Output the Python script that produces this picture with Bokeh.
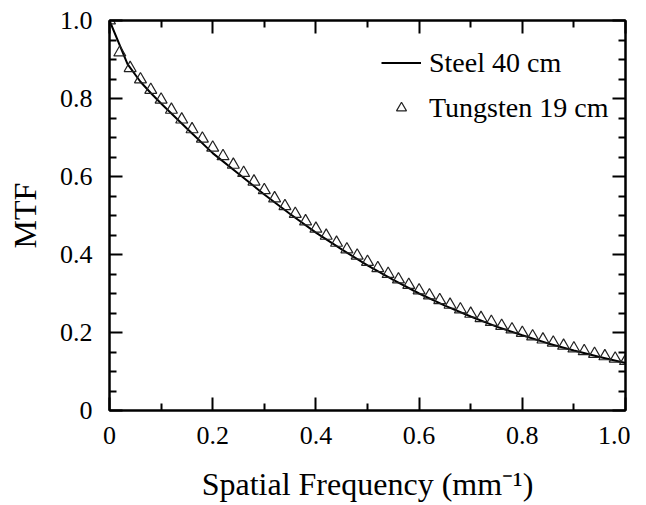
from bokeh.plotting import figure
from bokeh.models import (Range1d, LinearAxis, FixedTicker, PrintfTickFormatter,
                          Legend, LegendItem)
from bokeh.embed import file_html
from bokeh.resources import INLINE

# ---- data ----
steel_x = [0.00, 0.035, 0.06, 0.08, 0.10, 0.15, 0.20, 0.25, 0.30, 0.35, 0.40,
           0.45, 0.50, 0.55, 0.60, 0.65, 0.70, 0.75, 0.80, 0.85, 0.90, 0.95, 1.00]
steel_y = [1.000, 0.888, 0.843, 0.814, 0.787, 0.723, 0.660, 0.607, 0.554, 0.504, 0.456,
           0.413, 0.372, 0.335, 0.300, 0.269, 0.241, 0.215, 0.193, 0.172, 0.154, 0.137, 0.122]

tung_x = [0.00, 0.02, 0.04, 0.06, 0.08, 0.10, 0.12, 0.14, 0.16, 0.18,
          0.20, 0.22, 0.24, 0.26, 0.28, 0.30, 0.32, 0.34, 0.36, 0.38,
          0.40, 0.42, 0.44, 0.46, 0.48, 0.50, 0.52, 0.54, 0.56, 0.58,
          0.60, 0.62, 0.64, 0.66, 0.68, 0.70, 0.72, 0.74, 0.76, 0.78,
          0.80, 0.82, 0.84, 0.86, 0.88, 0.90, 0.92, 0.94, 0.96, 0.98, 1.00]
tung_y = [1.000, 0.918, 0.878, 0.849, 0.822, 0.797, 0.771, 0.746, 0.721, 0.697,
          0.674, 0.652, 0.630, 0.609, 0.587, 0.565, 0.544, 0.524, 0.504, 0.485,
          0.466, 0.448, 0.430, 0.413, 0.397, 0.381, 0.365, 0.350, 0.336, 0.322,
          0.308, 0.295, 0.283, 0.271, 0.259, 0.248, 0.237, 0.227, 0.217, 0.208,
          0.199, 0.190, 0.182, 0.174, 0.166, 0.159, 0.152, 0.145, 0.139, 0.133, 0.127]

x_major = [0, 0.2, 0.4, 0.6, 0.8, 1.0]
x_minor = [0.1, 0.3, 0.5, 0.7, 0.9]
y_major = [0, 0.2, 0.4, 0.6, 0.8, 1.0]
y_minor = [0.05, 0.1, 0.15, 0.25, 0.3, 0.35, 0.45, 0.5, 0.55, 0.65, 0.7, 0.75, 0.85, 0.9, 0.95]

series_labels = ["Steel 40 cm", "Tungsten 19 cm"]
x_title = "Spatial Frequency (mm\u207b\u00b9)"
y_title = "MTF"

FONT = "Liberation Serif"

p = figure(frame_width=516, frame_height=390,
           x_range=Range1d(0, 1.0), y_range=Range1d(0, 1.0),
           output_backend="svg", toolbar_location=None,
           min_border_left=109, min_border_right=5, min_border_top=20,
           min_border_bottom=0, background_fill_color="white",
           border_fill_color="white")
p.grid.visible = False
p.outline_line_color = "black"
p.outline_line_width = 2

top = LinearAxis()
right = LinearAxis()
p.add_layout(top, "above")
p.add_layout(right, "right")

xa = p.below[0]
ya = p.left[0]

axes = [(xa, x_major, x_minor, True), (top, x_major, x_minor, False),
        (ya, y_major, y_minor, True), (right, y_major, y_minor, False)]

for ax, majors, minors, show in axes:
    ax.ticker = FixedTicker(ticks=majors, minor_ticks=minors)
    ax.axis_line_color = "black"
    ax.axis_line_width = 2
    ax.major_tick_in = 13
    ax.major_tick_out = 0
    ax.minor_tick_in = 7
    ax.minor_tick_out = 0
    ax.major_tick_line_width = 2
    ax.minor_tick_line_width = 2
    ax.major_tick_line_color = "black"
    ax.minor_tick_line_color = "black"
    if show:
        ax.formatter = PrintfTickFormatter(format="%.1f")
        ax.major_label_overrides = {0: "0"}
        ax.major_label_text_font = FONT
        ax.major_label_text_font_size = "26px"
        ax.major_label_text_color = "black"
        ax.axis_label_text_font = FONT
        ax.axis_label_text_font_size = "32px"
        ax.axis_label_text_font_style = "normal"
        ax.axis_label_text_color = "black"
    else:
        ax.major_label_text_color = None
        ax.major_label_text_font_size = "1px"
        ax.major_label_standoff = 0

xa.axis_label = x_title
ya.axis_label = y_title
xa.major_label_standoff = 16
xa.axis_label_standoff = 19
ya.major_label_standoff = 17
ya.axis_label_standoff = 14

line_r = p.line(steel_x, steel_y, line_color="black", line_width=2)
tri_r = p.scatter(tung_x, tung_y, marker="triangle", size=12,
                  fill_color=None, line_color="#222222", line_width=1.2)

legend = Legend(items=[LegendItem(label=series_labels[0], renderers=[line_r]),
                       LegendItem(label=series_labels[1], renderers=[tri_r])],
                location=(272, 280), orientation="vertical",
                border_line_color=None, background_fill_alpha=0,
                label_text_font=FONT, label_text_font_size="28px",
                label_text_color="black",
                glyph_width=40, glyph_height=25, label_height=45,
                label_standoff=8, padding=0, spacing=0, margin=0)
p.add_layout(legend, "center")

open("out.html", "w").write(file_html(p, INLINE))
